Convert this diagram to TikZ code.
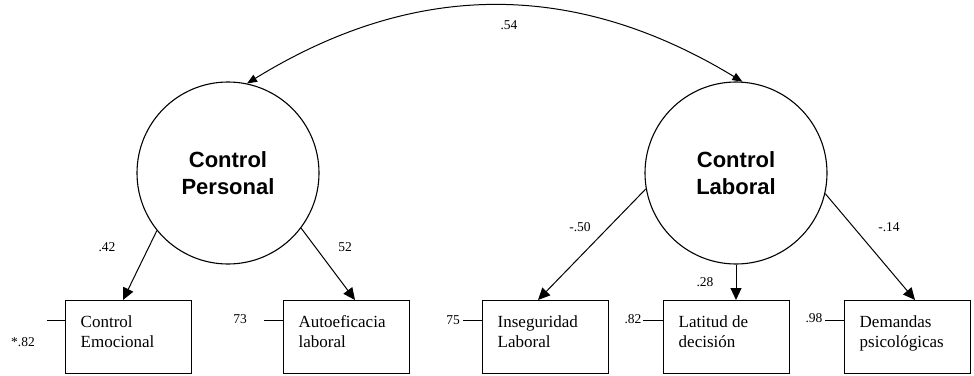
\documentclass[tikz,border=0pt]{standalone}
\usepackage{fontspec}
\setmainfont{Liberation Serif}
\newfontfamily\latentfont{Liberation Sans}
\usetikzlibrary{arrows.meta}

\begin{document}
\begin{tikzpicture}[x=1pt,y=-1pt,
  latent/.style={circle,draw,line width=1.1pt,minimum size=182pt,inner sep=0pt,
    align=center,font=\latentfont\bfseries\fontsize{22}{27}\selectfont},
  indicator/.style={rectangle,draw,line width=1pt,minimum width=126pt,
    minimum height=73pt,inner sep=0pt},
  boxtext/.style={anchor=north west,inner sep=0pt,align=left,
    font=\fontsize{17}{20}\selectfont},
  coef/.style={inner sep=0pt,font=\fontsize{13.5}{16}\selectfont},
  loading/.style={line width=1pt,-{Triangle[length=12pt,width=11pt]}},
  errline/.style={line width=1pt},
]
\useasboundingbox (0,0) rectangle (974,375);

% latent factors
\node[latent] (PC) at (228,173) {Control\\Personal};
\node[latent] (LC) at (736,173) {Control\\Laboral};

% observed indicators
\node[indicator] (CE) at (128,337) {};
\node[indicator] (AE) at (346,337) {};
\node[indicator] (IL) at (545,337) {};
\node[indicator] (LD) at (726,337) {};
\node[indicator] (DP) at (907,337) {};

\node[boxtext] (CEt) at ([xshift=16pt,yshift=-14pt]CE.north west) {\rule{0pt}{13pt}Control\\Emocional};
\node[boxtext] (AEt) at ([xshift=16pt,yshift=-14pt]AE.north west) {\rule{0pt}{13pt}Autoeficacia\\laboral};
\node[boxtext] (ILt) at ([xshift=16pt,yshift=-14pt]IL.north west) {\rule{0pt}{13pt}Inseguridad\\Laboral};
\node[boxtext] (LDt) at ([xshift=16pt,yshift=-14pt]LD.north west) {\rule{0pt}{13pt}Latitud de\\decisión};
\node[boxtext] (DPt) at ([xshift=16pt,yshift=-14pt]DP.north west) {\rule{0pt}{13pt}Demandas\\psicológicas};

% correlation between factors
\draw[line width=1pt,{Triangle[length=10pt,width=8pt]}-{Triangle[length=10pt,width=8pt]}]
  (PC.78) .. controls (415,-20) and (575,-20) .. (LC.86);
\node[coef] (r) at (509,25) {.54};

% factor loadings
\draw[loading] (PC.219) -- ([xshift=-5pt]CE.north);
\draw[loading] (PC.323) -- ([xshift=9pt]AE.north);
\draw[loading] (LC.190) -- ([xshift=-7pt]IL.north);
\draw[loading] (LC.south) -- ([xshift=10pt]LD.north);
\draw[loading] (LC.347) -- ([xshift=8pt]DP.north);

\node[coef] (l1) at (107,247) {.42};
\node[coef] (l2) at (345,247) {52};
\node[coef] (l3) at (580,227) {-.50};
\node[coef] (l4) at (705,282) {.28};
\node[coef] (l5) at (889,227) {-.14};

% error terms
\coordinate (e1) at (47,320);
\coordinate (e2) at (264,320);
\coordinate (e3) at (463,320);
\coordinate (e4) at (643,320);
\coordinate (e5) at (825,320);
\draw[errline] (e1) -- (e1 -| CE.west);
\draw[errline] (e2) -- (e2 -| AE.west);
\draw[errline] (e3) -- (e3 -| IL.west);
\draw[errline] (e4) -- (e4 -| LD.west);
\draw[errline] (e5) -- (e5 -| DP.west);

\node[coef] (u1) at (23,342) {*.82};
\node[coef] (u2) at (240,319) {73};
\node[coef] (u3) at (453,320) {75};
\node[coef] (u4) at (633,319) {.82};
\node[coef] (u5) at (814,318) {.98};
\end{tikzpicture}
\end{document}
